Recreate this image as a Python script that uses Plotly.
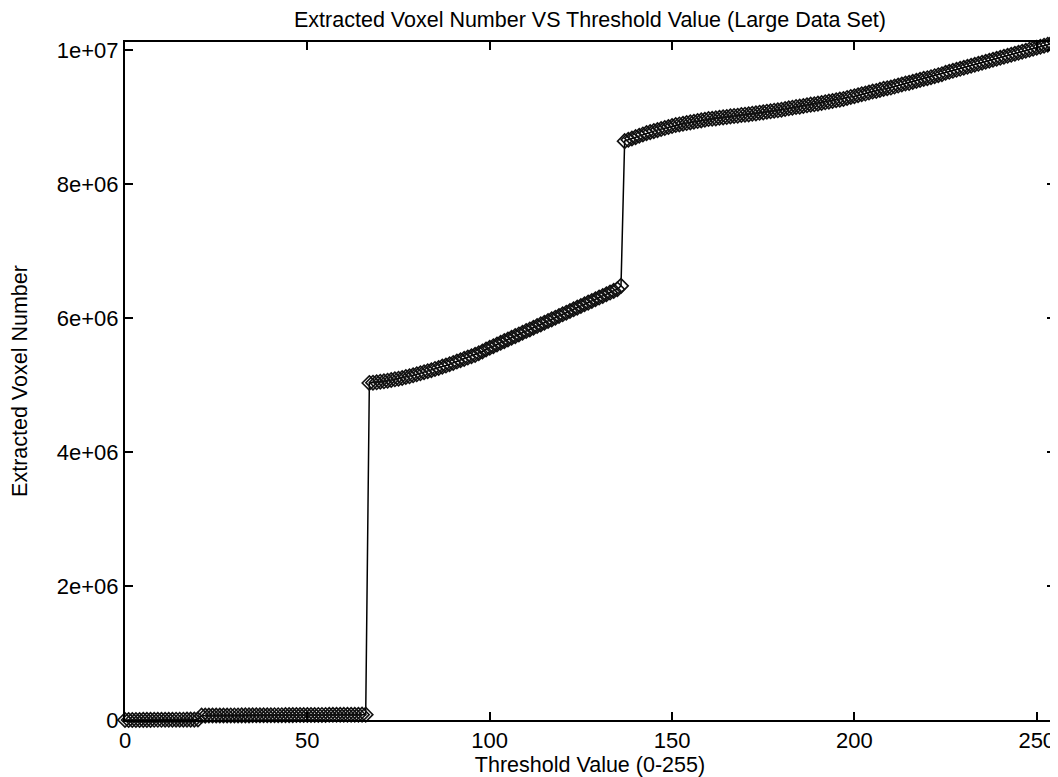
import plotly.graph_objects as go

# Threshold values 0..255
thresholds = list(range(256))

# Extracted voxel number, in millions
seg_low = [0.0, 0.0, 0.0, 0.0, 0.0, 0.002, 0.002, 0.002, 0.003, 0.003, 0.003,
           0.004, 0.004, 0.004, 0.005, 0.005, 0.005, 0.006, 0.006, 0.006, 0.007]  # 0..20
seg_mid_low = [0.065, 0.065, 0.066, 0.066, 0.066, 0.067, 0.067, 0.067, 0.068, 0.068,
               0.068, 0.069, 0.069, 0.069, 0.070, 0.070, 0.070, 0.071, 0.071, 0.071,
               0.072, 0.072, 0.072, 0.073, 0.073, 0.073, 0.074, 0.074, 0.074, 0.075,
               0.075, 0.075, 0.076, 0.076, 0.076, 0.077, 0.077, 0.077, 0.078, 0.078,
               0.078, 0.079, 0.079, 0.079, 0.080, 0.080]  # 21..66
seg_middle = [5.03, 5.035, 5.04, 5.05, 5.055, 5.065, 5.075, 5.085, 5.095, 5.105,
              5.12, 5.13, 5.145, 5.16, 5.175, 5.19, 5.205, 5.22, 5.24, 5.255,
              5.275, 5.29, 5.31, 5.33, 5.35, 5.37, 5.39, 5.41, 5.43, 5.45,
              5.475, 5.50, 5.53, 5.555,
              5.58, 5.605, 5.63, 5.655, 5.68, 5.705, 5.73, 5.755, 5.78, 5.805,
              5.83, 5.855, 5.88, 5.905, 5.93, 5.955, 5.98, 6.005, 6.03, 6.055,
              6.08, 6.105, 6.13, 6.155, 6.18, 6.205, 6.23, 6.255, 6.28, 6.305,
              6.33, 6.355, 6.38, 6.405, 6.43, 6.48]  # 67..136
seg_high = [8.64, 8.66, 8.68, 8.70, 8.72, 8.74, 8.76, 8.775, 8.79, 8.805,
            8.82, 8.835, 8.85, 8.865, 8.88, 8.89, 8.90, 8.91, 8.92, 8.93,
            8.94, 8.95, 8.96, 8.97, 8.975, 8.98, 8.99, 8.995, 9.00, 9.01,
            9.015, 9.02, 9.03, 9.035, 9.04, 9.05, 9.055, 9.065, 9.07, 9.08,
            9.085, 9.095, 9.10, 9.11, 9.12, 9.13, 9.14, 9.15, 9.155, 9.165,
            9.175, 9.185, 9.19, 9.20, 9.21, 9.22, 9.23, 9.24, 9.25, 9.26,
            9.27, 9.285, 9.30, 9.31, 9.325, 9.34, 9.35, 9.365, 9.38, 9.39,
            9.405, 9.42, 9.43, 9.44, 9.455, 9.47, 9.485, 9.50, 9.51, 9.525,
            9.54, 9.555, 9.57, 9.58, 9.595, 9.61, 9.625, 9.64, 9.66, 9.675,
            9.69, 9.705, 9.72, 9.735, 9.75, 9.765, 9.78, 9.795, 9.81, 9.825,
            9.84, 9.855, 9.87, 9.885, 9.90, 9.915, 9.93, 9.945, 9.96, 9.975,
            9.99, 10.005, 10.02, 10.035, 10.05, 10.065, 10.08, 10.10, 10.12]  # 137..255

voxels_millions = seg_low + seg_mid_low + seg_middle + seg_high
voxels = [v * 1e6 for v in voxels_millions]

x_tickvals = [0, 50, 100, 150, 200, 250]
y_tickvals = [0, 2e6, 4e6, 6e6, 8e6, 1e7]
y_ticktext = ["0", "2e+06", "4e+06", "6e+06", "8e+06", "1e+07"]

title_text = "Extracted Voxel Number VS Threshold Value (Large Data Set)"
x_title = "Threshold Value (0-255)"
y_title = "Extracted Voxel Number"

FONT = "Liberation Sans, Arial, Helvetica, sans-serif"

# The page body has an 8px margin, so the figure is 8px smaller each way.
W, H = 1050, 769

fig = go.Figure()
fig.add_trace(go.Scatter(
    x=thresholds, y=voxels,
    mode="lines+markers",
    line=dict(color="black", width=1.5),
    marker=dict(symbol="diamond-open", size=11, color="#111",
                line=dict(color="#111", width=1.6)),
    cliponaxis=False,
    showlegend=False,
))

axis_common = dict(
    showgrid=False, zeroline=False, automargin=False,
    showline=True, linecolor="black", linewidth=2,
    mirror="ticks", ticks="inside", ticklen=8, tickwidth=1.5, tickcolor="black",
    tickfont=dict(family=FONT, size=22, color="black"),
)

fig.update_layout(
    width=W, height=H,
    margin=dict(l=117, r=3, t=34, b=57, autoexpand=False),
    paper_bgcolor="white", plot_bgcolor="white",
    font=dict(family=FONT, color="black"),
    title=dict(text=title_text, x=(590 - 8) / W, xanchor="center",
               y=1 - 11 / H, yanchor="middle",
               font=dict(family=FONT, size=21.5, color="black")),
    xaxis=dict(range=[0, 255], tickvals=x_tickvals,
               title=dict(text=x_title, standoff=3,
                          font=dict(family=FONT, size=21.5, color="black")),
               **axis_common),
    yaxis=dict(range=[0, 1.012e7], tickvals=y_tickvals, ticktext=y_ticktext,
               title=dict(text=y_title, standoff=24,
                          font=dict(family=FONT, size=21.5, color="black")),
               **axis_common),
)

fig.write_html("out.html")
